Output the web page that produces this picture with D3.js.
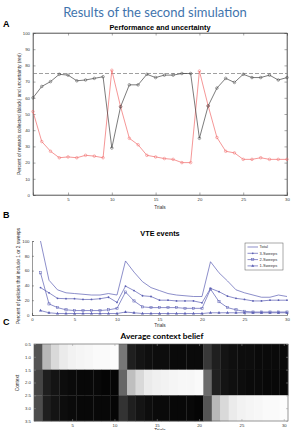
<!DOCTYPE html>
<html>
<head>
<meta charset="utf-8">
<script src="https://cdn.jsdelivr.net/npm/d3@7"></script>
<style>
  body { margin: 0; background: #fff; }
  svg { display: block; }
  .tick text { font-family: "Liberation Sans", Arial, sans-serif; }
</style>
</head>
<body>
<div id="chart"></div>
<script>
// --- data ---
const trials = d3.range(1, 31);

// panel A: percent of rewards collected (black) and uncertainty (red)
const rewards = [60, 67, 70, 74.5, 74, 70.5, 71, 72, 73, 29,
                 54.5, 68, 68, 74.5, 72.5, 74, 74, 75, 75, 35,
                 55, 66, 72, 69.5, 74.5, 72.5, 72.5, 74, 71, 72.5];
const uncertainty = [51.5, 33, 27, 23, 23.5, 23, 24.5, 24, 23, 77,
                     54.5, 35, 31, 24.5, 23.5, 22.5, 22, 20, 20, 76.5,
                     55, 35.5, 27, 26, 22, 22, 23, 22, 22, 22];
const optimalLevel = 75;

// panel B: VTE events, percent of policies with sweeps
const vteTotal = [100, 47, 34, 30, 29, 28, 27, 27, 29, 27,
                  73, 58, 45, 37, 33, 29, 27, 26, 25, 25,
                  72, 57, 46, 34, 30, 27, 24, 24, 27, 25];
const sweeps3 = [37, 30, 22.5, 22, 22, 21, 21, 22, 24, 17,
                 39, 33, 26, 25, 20, 20, 19, 19, 19, 16.5,
                 36, 31.5, 25.5, 22.5, 21, 19, 19, 20, 20, 20];
const sweeps2 = [57, 15, 10, 7, 6, 6, 6, 6, 7, 9,
                 31, 19, 11, 10, 10, 10, 10, 9, 9, 9,
                 35, 18, 10, 7, 5, 4, 4, 4, 4, 4];
const sweeps1 = [6, 3, 2, 2, 2, 2, 2, 2, 2, 2,
                 4, 3, 2, 2, 2, 2, 2, 2, 2, 2,
                 3, 3, 3, 3, 3, 3, 3, 3, 3, 3];
const vteNames = ["Total", "3-Sweeps", "2-Sweeps", "1-Sweeps"];

// panel C: average context belief (rows = context 1..3, columns = trials)
const contexts = [1, 2, 3];
const belief1 = [0.33, 0.72, 0.85, 0.92, 0.95, 0.96, 0.97, 0.98, 0.98, 0.99,
                 0.47, 0.12, 0.08, 0.06, 0.05, 0.05, 0.04, 0.04, 0.04, 0.04,
                 0.22, 0.12, 0.08, 0.06, 0.05, 0.05, 0.04, 0.04, 0.04, 0.04];
const belief2 = [0.27, 0.12, 0.08, 0.05, 0.04, 0.03, 0.03, 0.03, 0.02, 0.02,
                 0.40, 0.75, 0.85, 0.92, 0.94, 0.95, 0.96, 0.97, 0.97, 0.98,
                 0.42, 0.13, 0.08, 0.06, 0.05, 0.04, 0.04, 0.03, 0.03, 0.03];
const belief3 = [0.30, 0.12, 0.08, 0.05, 0.04, 0.03, 0.03, 0.03, 0.03, 0.02,
                 0.20, 0.12, 0.08, 0.05, 0.04, 0.04, 0.03, 0.03, 0.03, 0.02,
                 0.33, 0.72, 0.85, 0.92, 0.95, 0.96, 0.97, 0.98, 0.98, 0.99];

// --- look ---
const AXIS = "#555";
const TEXT = "#333";
const BLUE = "#5b5fb3";
const RED = "#f06a6a";
const SANS = "'Liberation Sans', Arial, sans-serif";

const svg = d3.select("#chart").append("svg")
  .attr("width", 292).attr("height", 430);

// main title
svg.append("text")
  .attr("x", 155).attr("y", 17)
  .attr("text-anchor", "middle")
  .style("font-family", "Lato, 'Open Sans', sans-serif")
  .style("font-size", "13px")
  .style("fill", "#3f74ad")
  .text("Results of the second simulation");

function panelLabel(t, x, y) {
  svg.append("text").attr("x", x).attr("y", y)
    .style("font-family", SANS).style("font-size", "9px").style("font-weight", "bold")
    .text(t);
}

function styleAxis(g) {
  g.select(".domain").attr("stroke", AXIS).attr("stroke-width", 0.6);
  g.selectAll(".tick line").attr("stroke", AXIS).attr("stroke-width", 0.5);
  g.selectAll(".tick text").style("font-size", "4.3px").style("fill", TEXT);
}

function yLabel(text, x, y) {
  svg.append("text")
    .attr("transform", `translate(${x},${y}) rotate(-90)`)
    .attr("text-anchor", "middle")
    .style("font-family", SANS).style("font-size", "4.8px").style("fill", TEXT)
    .text(text);
}

function xLabel(text, x, y) {
  svg.append("text").attr("x", x).attr("y", y)
    .attr("text-anchor", "middle")
    .style("font-family", SANS).style("font-size", "4.8px").style("fill", TEXT)
    .text(text);
}

// =============== A: performance and uncertainty ===============
panelLabel("A", 3, 27);
svg.append("text").attr("x", 160).attr("y", 29.5).attr("text-anchor", "middle")
  .style("font-family", SANS).style("font-size", "7.3px").style("font-weight", "600")
  .text("Performance and uncertainty");

const xA = d3.scaleLinear().domain([1, 30]).range([33, 287]);
const yA = d3.scaleLinear().domain([0, 100]).range([195, 33]);

const gA = svg.append("g");
gA.append("rect").attr("x", xA(1)).attr("y", yA(100))
  .attr("width", xA(30) - xA(1)).attr("height", yA(0) - yA(100))
  .attr("fill", "none").attr("stroke", AXIS).attr("stroke-width", 0.6);

const xTicksA = [5, 10, 15, 20, 25, 30];
const yTicksA = d3.range(0, 101, 10);
gA.append("g").attr("transform", `translate(0,${yA(0)})`)
  .call(d3.axisBottom(xA).tickValues(xTicksA).tickSize(-2.5).tickPadding(3)).call(styleAxis);
gA.append("g").attr("transform", `translate(0,${yA(100)})`)
  .call(d3.axisTop(xA).tickValues(xTicksA).tickSize(-2.5).tickFormat("")).call(styleAxis);
gA.append("g").attr("transform", `translate(${xA(1)},0)`)
  .call(d3.axisLeft(yA).tickValues(yTicksA).tickSize(-2.5).tickPadding(3)).call(styleAxis);
gA.append("g").attr("transform", `translate(${xA(30)},0)`)
  .call(d3.axisRight(yA).tickValues(yTicksA).tickSize(-2.5).tickFormat("")).call(styleAxis);

gA.append("line")
  .attr("x1", xA(1)).attr("x2", xA(30))
  .attr("y1", yA(optimalLevel)).attr("y2", yA(optimalLevel))
  .attr("stroke", "#777").attr("stroke-width", 0.7).attr("stroke-dasharray", "4,2");

const lineA = (vals) => d3.line().x((d, i) => xA(trials[i])).y(d => yA(d))(vals);
[[uncertainty, RED], [rewards, "#444"]].forEach(([vals, col]) => {
  gA.append("path").attr("d", lineA(vals))
    .attr("fill", "none").attr("stroke", col).attr("stroke-width", 0.7);
  gA.selectAll(null).data(vals).enter().append("circle")
    .attr("cx", (d, i) => xA(trials[i])).attr("cy", d => yA(d))
    .attr("r", 1.3).attr("fill", "none").attr("stroke", col).attr("stroke-width", 0.5);
});

yLabel("Percent of rewards collected (black) and uncertainty (red)", 21, 114);
xLabel("Trials", 160, 209);

// =============== B: VTE events ===============
panelLabel("B", 3, 218);
svg.append("text").attr("x", 160).attr("y", 236).attr("text-anchor", "middle")
  .style("font-family", SANS).style("font-size", "7.3px").style("font-weight", "600")
  .text("VTE events");

const xB = d3.scaleLinear().domain([0, 30]).range([32, 287]);
const yB = d3.scaleLinear().domain([0, 100]).range([315, 241]);

const gB = svg.append("g");
gB.append("g").attr("transform", `translate(0,${yB(0)})`)
  .call(d3.axisBottom(xB).tickValues(d3.range(0, 31, 5)).tickSize(-2).tickPadding(2.5)).call(styleAxis);
gB.append("g").attr("transform", `translate(${xB(0)},0)`)
  .call(d3.axisLeft(yB).tickValues(d3.range(0, 101, 20)).tickSize(-2).tickPadding(2.5)).call(styleAxis);

const vteData = [vteTotal, sweeps3, sweeps2, sweeps1];
const markers = [null, "dot", "square", "triangle"];

function drawMarker(g, kind, x, y) {
  if (kind === "dot") {
    g.append("circle").attr("cx", x).attr("cy", y).attr("r", 0.9).attr("fill", BLUE);
  } else if (kind === "square") {
    g.append("rect").attr("x", x - 1.1).attr("y", y - 1.1).attr("width", 2.2).attr("height", 2.2)
      .attr("fill", "none").attr("stroke", BLUE).attr("stroke-width", 0.5);
  } else if (kind === "triangle") {
    g.append("path").attr("d", d3.symbol(d3.symbolTriangle, 4)()).attr("transform", `translate(${x},${y})`)
      .attr("fill", BLUE);
  }
}

const lineB = (vals) => d3.line().x((d, i) => xB(trials[i])).y(d => yB(d))(vals);
vteData.forEach((vals, k) => {
  gB.append("path").attr("d", lineB(vals))
    .attr("fill", "none").attr("stroke", BLUE).attr("stroke-width", 0.7);
  if (markers[k]) vals.forEach((d, i) => drawMarker(gB, markers[k], xB(trials[i]), yB(d)));
});

// legend
const lg = svg.append("g").attr("transform", "translate(245,243)");
lg.append("rect").attr("width", 38).attr("height", 27)
  .attr("fill", "#fff").attr("stroke", AXIS).attr("stroke-width", 0.5);
vteNames.forEach((name, k) => {
  const y = 4 + k * 6.3;
  lg.append("line").attr("x1", 2.5).attr("x2", 13).attr("y1", y).attr("y2", y)
    .attr("stroke", BLUE).attr("stroke-width", 0.7);
  if (markers[k]) drawMarker(lg, markers[k], 7.75, y);
  lg.append("text").attr("x", 14.5).attr("y", y + 1.4)
    .style("font-family", SANS).style("font-size", "4px").style("fill", TEXT)
    .text(name);
});

yLabel("Percent of policies that include 1 or 2 sweeps", 20, 276);
xLabel("Trials", 160, 326.5);

// =============== C: average context belief ===============
panelLabel("C", 3, 325);
svg.append("text").attr("x", 162).attr("y", 338.5).attr("text-anchor", "middle")
  .style("font-family", "Lato, 'Open Sans', sans-serif").style("font-size", "8.3px").style("font-weight", "bold")
  .text("Average context belief");

const xC = d3.scaleLinear().domain([0.5, 30.5]).range([34, 288]);
const yC = d3.scaleLinear().domain([0.5, 3.5]).range([344, 421]);
const gray = d3.scaleLinear().domain([0, 1]).range(["#000", "#fff"]);

const gC = svg.append("g");
[belief1, belief2, belief3].forEach((row, r) => {
  gC.selectAll(null).data(row).enter().append("rect")
    .attr("x", (d, i) => xC(trials[i] - 0.5))
    .attr("y", yC(contexts[r] - 0.5))
    .attr("width", (d, i) => xC(trials[i] + 0.5) - xC(trials[i] - 0.5) + 0.3)
    .attr("height", yC(contexts[r] + 0.5) - yC(contexts[r] - 0.5) + 0.3)
    .attr("fill", d => gray(d));
});
gC.append("rect").attr("x", xC(0.5)).attr("y", yC(0.5))
  .attr("width", xC(30.5) - xC(0.5)).attr("height", yC(3.5) - yC(0.5))
  .attr("fill", "none").attr("stroke", AXIS).attr("stroke-width", 0.6);

const xTicksC = [5, 10, 15, 20, 25, 30];
const yTicksC = [0.5, 1, 1.5, 2, 2.5, 3, 3.5];
gC.append("g").attr("transform", `translate(0,${yC(3.5)})`)
  .call(d3.axisBottom(xC).tickValues(xTicksC).tickSize(-2).tickPadding(3)).call(styleAxis);
gC.append("g").attr("transform", `translate(0,${yC(0.5)})`)
  .call(d3.axisTop(xC).tickValues(xTicksC).tickSize(-2).tickFormat("")).call(styleAxis);
gC.append("g").attr("transform", `translate(${xC(0.5)},0)`)
  .call(d3.axisLeft(yC).tickValues(yTicksC).tickSize(-2).tickPadding(3)).call(styleAxis);
gC.append("g").attr("transform", `translate(${xC(30.5)},0)`)
  .call(d3.axisRight(yC).tickValues(yTicksC).tickSize(-2).tickFormat("")).call(styleAxis);
gC.selectAll(".tick line").attr("stroke", "#999");
gC.selectAll(".domain").remove();

yLabel("Context", 19, 383);
xLabel("Trials", 160, 432);
</script>
</body>
</html>
